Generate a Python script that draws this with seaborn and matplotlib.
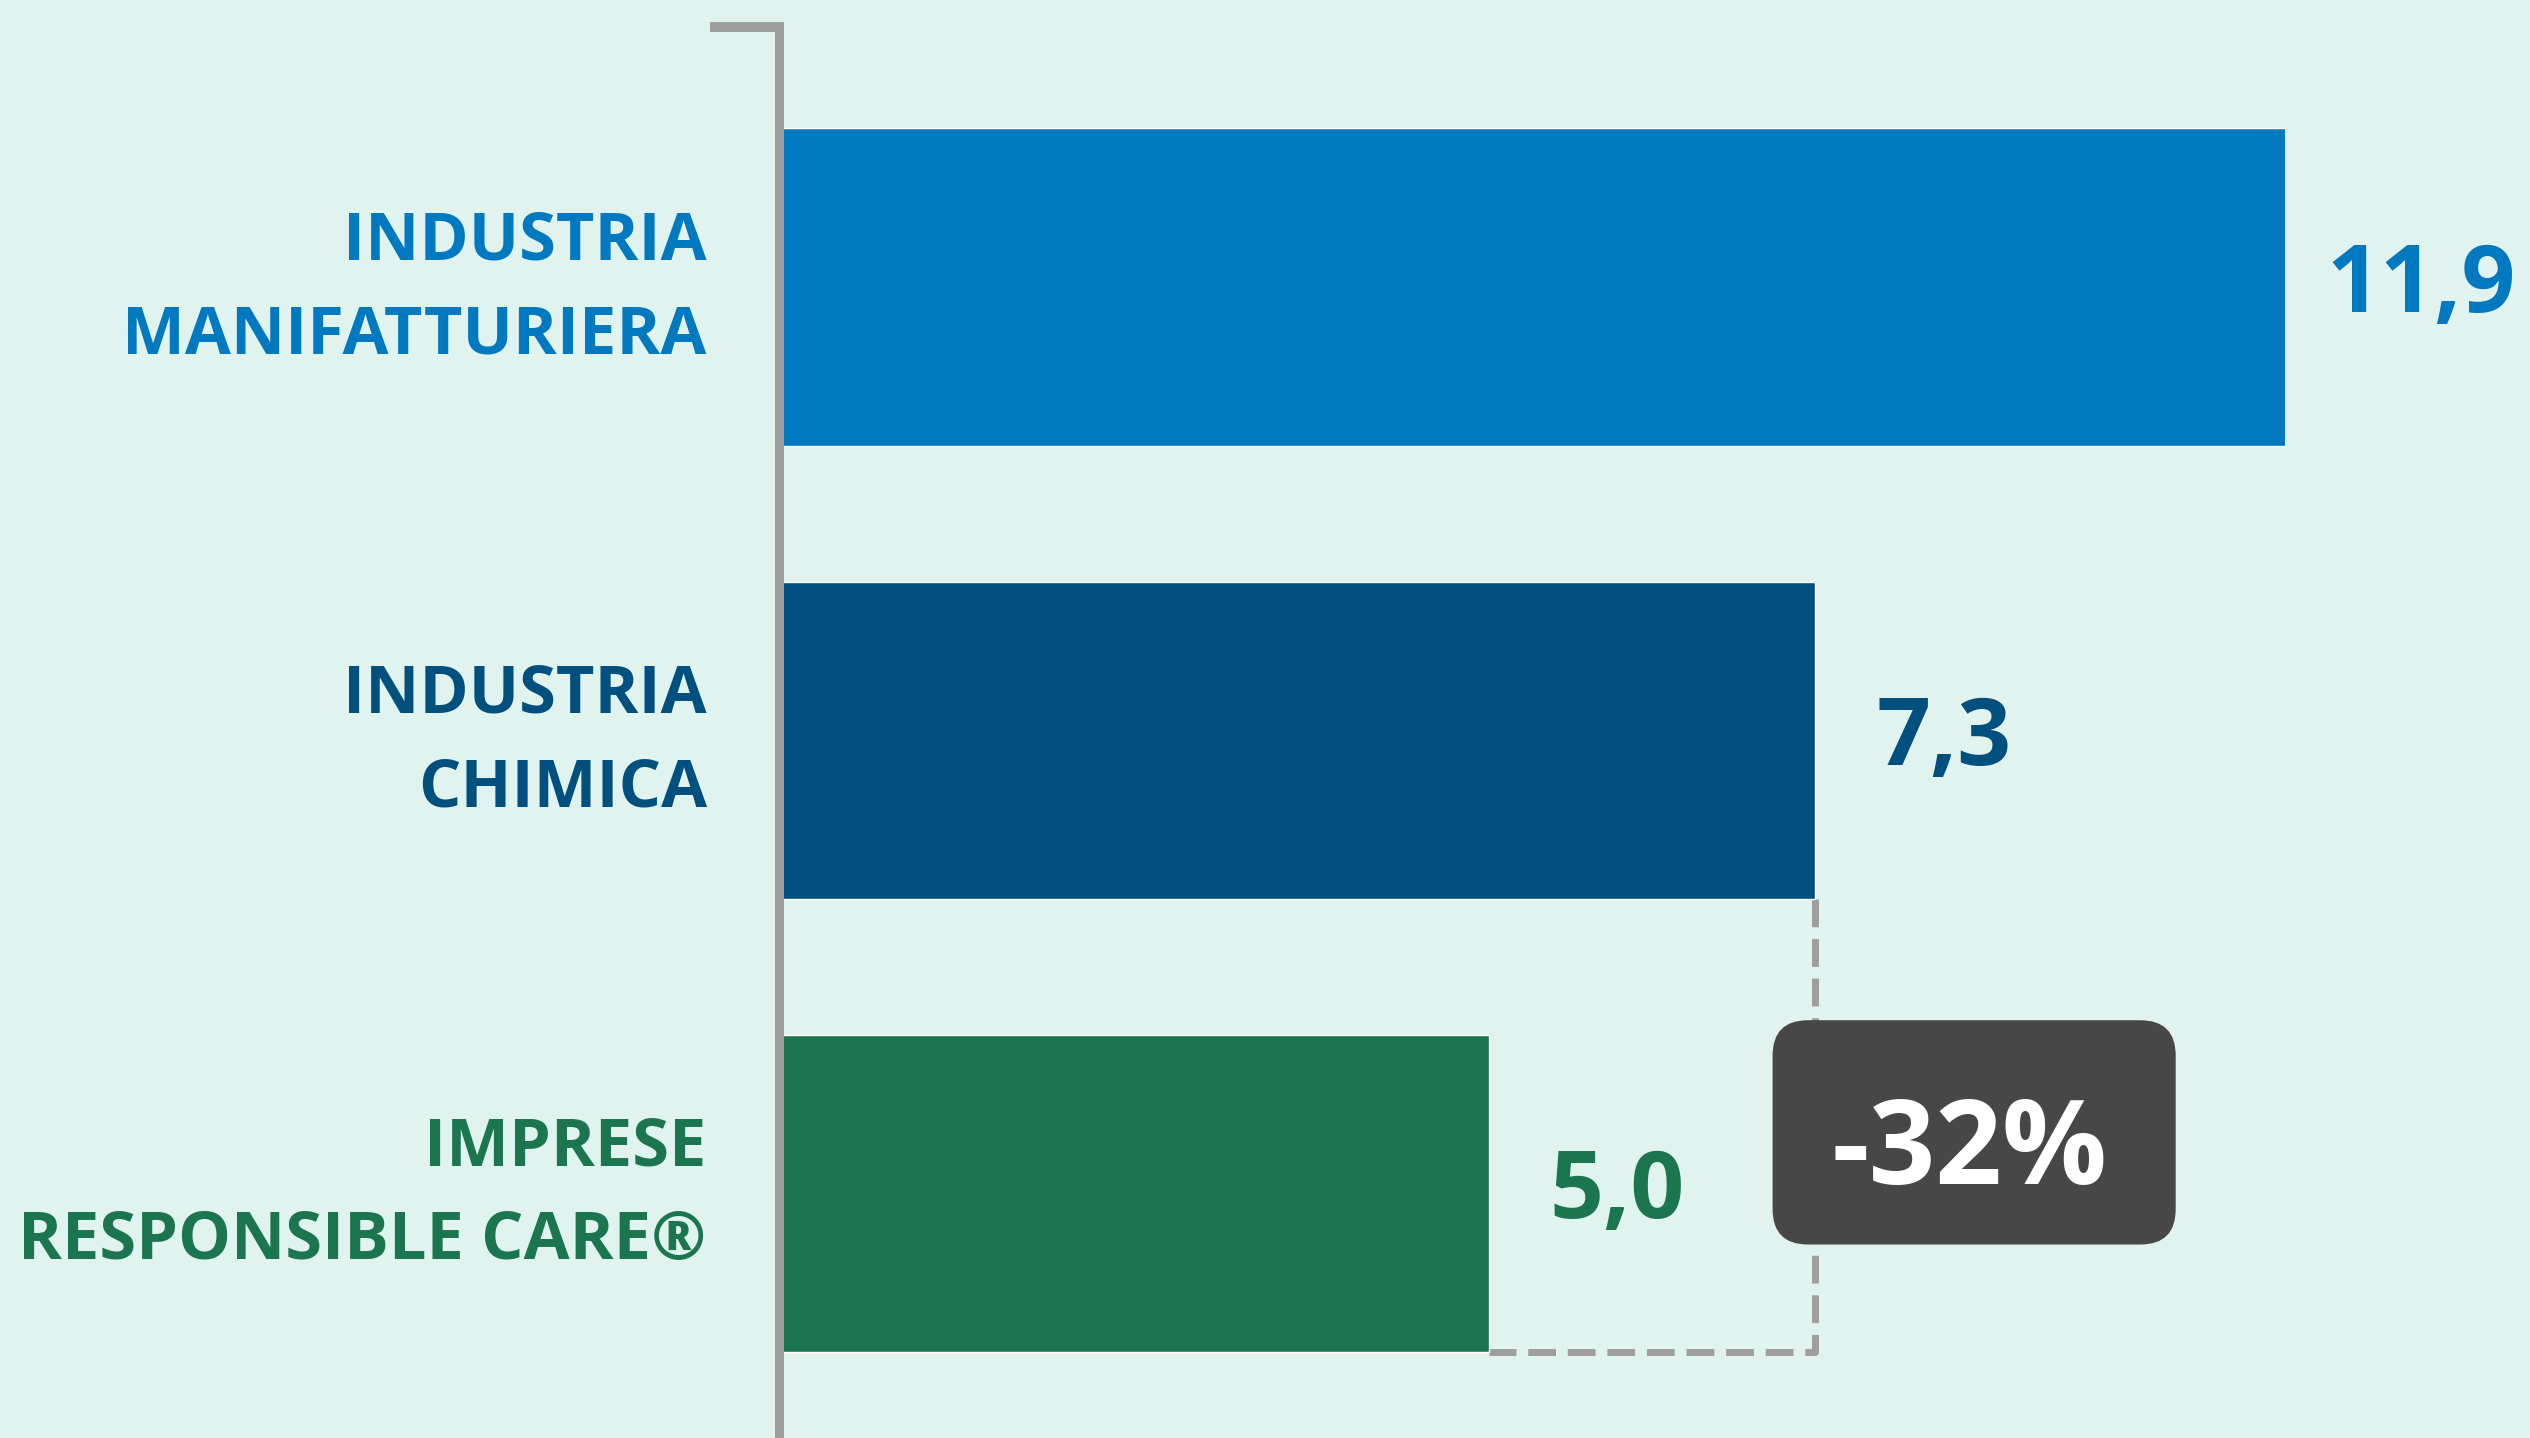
import numpy as np
import pandas as pd
import seaborn as sns
import matplotlib.pyplot as plt
import matplotlib.transforms as mtransforms
from matplotlib.patches import FancyBboxPatch
from matplotlib.lines import Line2D

# data
categories = ["INDUSTRIA\nMANIFATTURIERA", "INDUSTRIA\nCHIMICA", "IMPRESE\nRESPONSIBLE CARE®"]
values = [11.9, 7.3, 5.0]
value_labels = ["11,9", "7,3", "5,0"]
colors = ["#0079C1", "#00507F", "#1B7650"]
delta_label = "-32%"

bg = "#E0F3EE"
grey = "#9E9E9E"

sns.set_theme(style="white")
plt.rcParams['font.family'] = ['Open Sans', 'DejaVu Sans']

W, H = 2530, 1438
fig = plt.figure(figsize=(W / 100, H / 100), dpi=100, facecolor=bg)
ax = fig.add_axes([779 / W, 0, (2285 - 779) / W, (1438 - 27) / H])
ax.set_facecolor("none")

df = pd.DataFrame({"cat": categories, "val": values})
sns.barplot(data=df, x="val", y="cat", hue="cat", palette=colors, legend=False,
            width=0.7, saturation=1, ax=ax, zorder=2)

xmax = 10.61
ax.set_xlim(0, xmax)
ax.set_ylim(2.54, -0.574)

for s in ["top", "right", "bottom"]:
    ax.spines[s].set_visible(False)
ax.spines["left"].set_color(grey)
ax.spines["left"].set_linewidth(6.5)
ax.spines["left"].set_zorder(5)
ax.set_xticks([])
ax.set_xlabel("")
ax.set_ylabel("")
ax.tick_params(axis="y", length=0, pad=52)
shift_up = mtransforms.ScaledTranslation(0, 14 / 72, fig.dpi_scale_trans)
for lab, c in zip(ax.get_yticklabels(), colors):
    lab.set_color(c)
    lab.set_fontsize(48)
    lab.set_fontweight("bold")
    lab.set_linespacing(1.52)
    lab.set_transform(lab.get_transform() + shift_up)

# top cap of the bracket
fig.add_artist(Line2D([710 / W, 784 / W], [1 - 27 / H, 1 - 27 / H], color=grey, lw=7.2,
                      solid_capstyle="butt"))

# value labels
for i, (v, t, c) in enumerate(zip(values, value_labels, colors)):
    off = 30 if v > xmax else 44
    ax.annotate(t, xy=(min(v, xmax), i), xytext=(off, 0), textcoords="offset points",
                ha="left", va="center", fontsize=68, fontweight="bold", color=c,
                annotation_clip=False)

# dashed connector between chimica and responsible care
yb = 0.35
ax.plot([values[1], values[1], values[2]], [1 + yb, 2 + yb, 2 + yb], color=grey, lw=5,
        dashes=(4, 1.7), zorder=1, clip_on=False)

# delta box
bx0, bx1 = 7.0, 9.84
by0, by1 = 1.618, 2.113
box = FancyBboxPatch((bx0, by0), bx1 - bx0, by1 - by0,
                     boxstyle="round,pad=0,rounding_size=0.25", mutation_aspect=0.313,
                     fc="#474747", ec="none", zorder=6, clip_on=False)
ax.add_patch(box)
ax.annotate(delta_label, xy=((bx0 + bx1) / 2, (by0 + by1) / 2), xytext=(-3, -15),
            textcoords="offset points", ha="center", va="center",
            fontsize=84, fontweight="bold", color="white", zorder=7)

fig.savefig("out.png", dpi=100, facecolor=bg)
